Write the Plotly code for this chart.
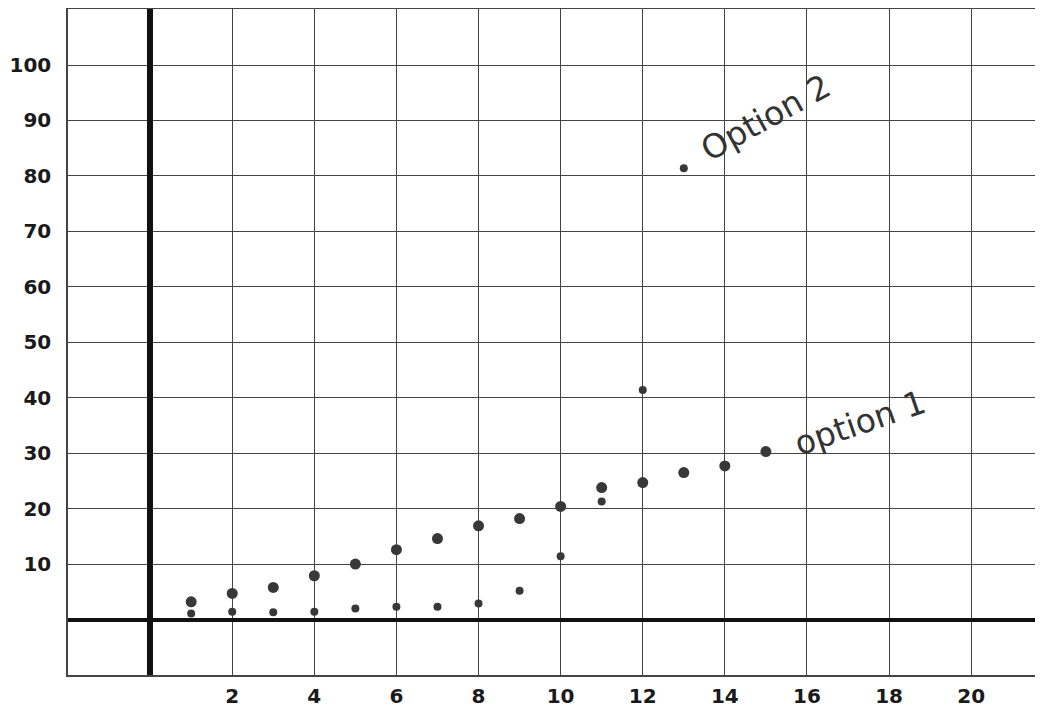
import plotly.graph_objects as go

days = [1, 2, 3, 4, 5, 6, 7, 8, 9, 10, 11, 12, 13, 14, 15]
option1_days = days
option1 = [3.2, 4.7, 5.8, 7.9, 10, 12.6, 14.6, 16.9, 18.2, 20.4, 23.8, 24.7, 26.5, 27.7, 30.3]
option2_days = [1, 2, 3, 4, 5, 6, 7, 8, 9, 10, 11, 12, 13]
option2 = [1.1, 1.4, 1.3, 1.4, 2.0, 2.3, 2.3, 2.9, 5.2, 11.4, 21.3, 41.4, 81.4]
x_ticks = [2, 4, 6, 8, 10, 12, 14, 16, 18, 20]
y_ticks = [10, 20, 30, 40, 50, 60, 70, 80, 90, 100]

fig = go.Figure()
fig.add_trace(go.Scatter(x=option1_days, y=option1, mode="markers", name="option 1",
                         marker=dict(color="#383838", size=11)))
fig.add_trace(go.Scatter(x=option2_days, y=option2, mode="markers", name="option 2",
                         marker=dict(color="#383838", size=8)))

fig.add_annotation(x=15.0, y=90.5, text="Option 2", showarrow=False, textangle=-29,
                   font=dict(family="DejaVu Sans", size=33, color="#333"))
fig.add_annotation(x=17.3, y=35.5, text="option 1", showarrow=False, textangle=-19,
                   font=dict(family="DejaVu Sans", size=33, color="#333"))

fig.update_layout(
    width=1035, height=702,
    margin=dict(l=60, r=0, t=1, b=35),
    plot_bgcolor="white", paper_bgcolor="white",
    showlegend=False,
)
fig.update_xaxes(
    range=[-2, 21.75], tickmode="array", tickvals=[-2, 0] + x_ticks,
    ticktext=["", ""] + [str(v) for v in x_ticks],
    showgrid=True, gridcolor="#444", gridwidth=1.3,
    zeroline=True, zerolinecolor="#111", zerolinewidth=6,
    showline=True, linecolor="#444", linewidth=1.5, mirror=True,
    ticks="", tickfont=dict(family="DejaVu Sans", size=20, color="#1a1a1a", weight="bold"),
    ticklabelstandoff=2,
)
fig.update_yaxes(
    range=[-10, 110.1], tickmode="array", tickvals=[-10, 0] + y_ticks,
    ticktext=["", ""] + [str(v) for v in y_ticks],
    showgrid=True, gridcolor="#444", gridwidth=1.3,
    zeroline=True, zerolinecolor="#111", zerolinewidth=4,
    showline=True, linecolor="#444", linewidth=1.5, mirror=False,
    ticks="", tickfont=dict(family="DejaVu Sans", size=20, color="#1a1a1a", weight="bold"),
    ticklabelstandoff=11,
)
fig.write_html("out.html")
